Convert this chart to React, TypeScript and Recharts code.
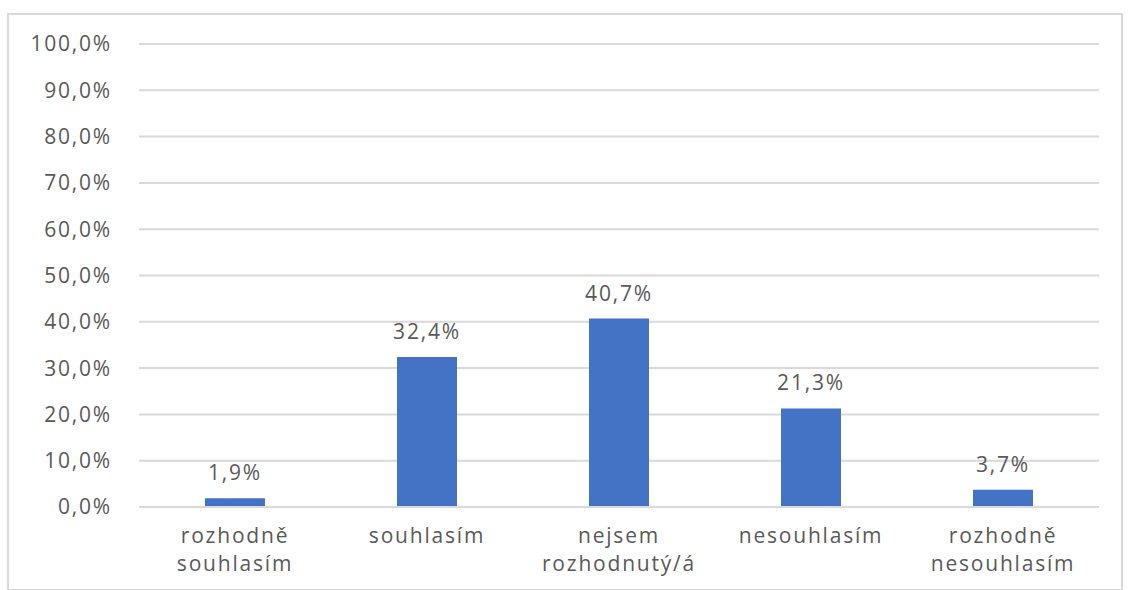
import React from 'react';
import { BarChart, Bar, XAxis, YAxis, CartesianGrid, LabelList } from 'recharts';

const categories = ['rozhodně\nsouhlasím', 'souhlasím', 'nejsem\nrozhodnutý/á', 'nesouhlasím', 'rozhodně\nnesouhlasím'];
const values = [1.9, 32.4, 40.7, 21.3, 3.7];
const yTicks = [0, 10, 20, 30, 40, 50, 60, 70, 80, 90, 100];

const chartData = categories.map((name, i) => ({ name, value: values[i] }));

const fmt = (v: number) => `${v.toFixed(1).replace('.', ',')}%`;
const TEXT = '#595959';
const FONT = '"Open Sans", sans-serif';
const SPACING = 1.8;

const CategoryTick = (props: any) => {
  const { x, y, payload } = props;
  const lines = String(payload.value).split('\n');
  return (
    <text
      x={x}
      y={y + 28}
      textAnchor="middle"
      fill={TEXT}
      fontSize={21}
      fontFamily={FONT}
      letterSpacing={SPACING}
    >
      {lines.map((line, i) => (
        <tspan key={i} x={x} dy={i === 0 ? 0 : 28}>
          {line}
        </tspan>
      ))}
    </text>
  );
};

export default function App() {
  return (
    <div style={{ position: 'absolute', left: 0, top: 0, width: 1131, height: 590, background: '#fff' }}>
      <div
        style={{
          position: 'absolute',
          left: 7,
          top: 13,
          width: 1112,
          height: 574,
          border: '2px solid #d9d9d9',
        }}
      />
      <div style={{ position: 'absolute', left: 0, top: 0 }}>
        <BarChart width={1131} height={590} data={chartData} margin={{ top: 44, right: 32, bottom: 0, left: 0 }}>
          <CartesianGrid vertical={false} stroke="#d9d9d9" strokeWidth={2} />
          <XAxis
            dataKey="name"
            height={83}
            axisLine={{ stroke: '#d9d9d9', strokeWidth: 2 }}
            tickLine={false}
            interval={0}
            tick={<CategoryTick />}
          />
          <YAxis
            width={139}
            domain={[0, 100]}
            ticks={yTicks}
            tickFormatter={fmt}
            axisLine={false}
            tickLine={false}
            tickSize={0}
            tickMargin={27}
            tick={{ fill: TEXT, fontSize: 21, fontFamily: FONT, letterSpacing: SPACING }}
          />
          <Bar dataKey="value" fill="#4472C4" barSize={60} isAnimationActive={false}>
            <LabelList
              dataKey="value"
              position="top"
              offset={18}
              formatter={(v: any) => fmt(Number(v))}
              fill={TEXT}
              fontSize={21}
              fontFamily={FONT}
              letterSpacing={SPACING}
            />
          </Bar>
        </BarChart>
      </div>
    </div>
  );
}
